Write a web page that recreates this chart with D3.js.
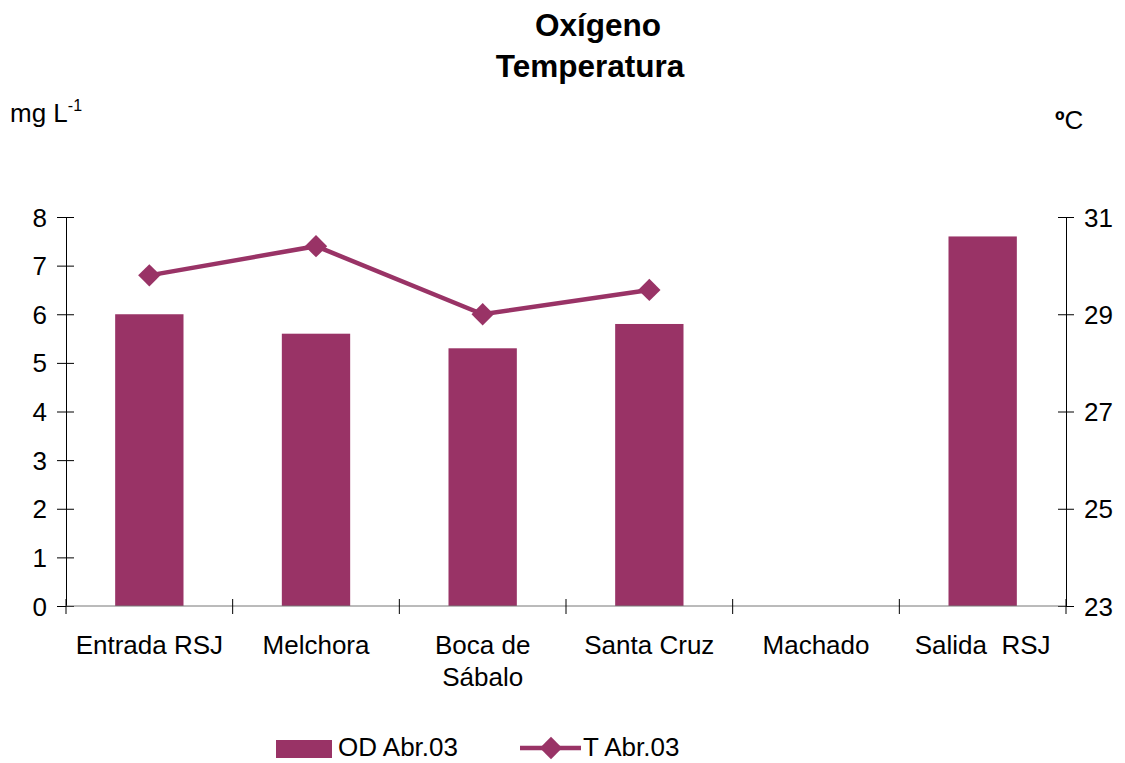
<!DOCTYPE html>
<html><head><meta charset="utf-8">
<script src="https://cdn.jsdelivr.net/npm/d3@7"></script>
<style>body{margin:0;background:#fff}text{font-family:"Liberation Sans",Arial,sans-serif;white-space:pre}</style>
</head><body>
<svg id="c" width="1125" height="763"></svg>
<script>
const categories = [["Entrada RSJ"],["Melchora"],["Boca de","Sábalo"],["Santa Cruz"],["Machado"],["Salida  RSJ"]];
const odValues = [6.0, 5.6, 5.3, 5.8, null, 7.6];
const tValues = [29.8, 30.4, 29.0, 29.5, null, null];
const leftTicks = [0,1,2,3,4,5,6,7,8];
const rightTicks = [23,25,27,29,31];
const color = "#993366";

const svg = d3.select("#c");
const L = 66, R = 1066, T = 217, B = 606;
const FS = 26;
const x = d3.scaleBand().domain(d3.range(categories.length)).range([L, R]).paddingInner(0.59).paddingOuter(0.295);
const xb = d3.scaleBand().domain(d3.range(categories.length)).range([L, R]);
const yL = d3.scaleLinear().domain([0, 8]).range([B, T]);
const yR = d3.scaleLinear().domain([23, 31]).range([B, T]);

// title
svg.append("text").attr("x", 598).attr("y", 36).attr("text-anchor","middle").attr("font-size",31.5).attr("font-weight","bold").text("Oxígeno");
svg.append("text").attr("x", 590).attr("y", 77).attr("text-anchor","middle").attr("font-size",31.5).attr("font-weight","bold").text("Temperatura");
// unit labels
const u = svg.append("text").attr("x", 10).attr("y", 122).attr("font-size",FS);
u.append("tspan").text("mg L");
u.append("tspan").attr("font-size",16).attr("dy",-11).text("-1");
const cu = svg.append("text").attr("x", 1055).attr("y", 129).attr("font-size",FS);
cu.append("tspan").attr("font-weight","bold").text("º");
cu.append("tspan").text("C");

// bars
svg.selectAll("rect.bar").data(odValues.map((v,i)=>({v,i})).filter(d=>d.v!=null)).enter().append("rect")
  .attr("x", d=>x(d.i)).attr("width", x.bandwidth()).attr("y", d=>yL(d.v)).attr("height", d=>B - yL(d.v)).attr("fill", color);

// axes
const gL = svg.append("g").attr("transform",`translate(${L},0)`).call(d3.axisLeft(yL).tickValues(leftTicks).tickSize(0).tickFormat(d3.format("d")));
gL.select(".domain").attr("stroke","#000");
gL.selectAll(".tick line").remove();
gL.selectAll(".tick").append("line").attr("x1",-9).attr("x2",8).attr("stroke","#000");
gL.selectAll("text").attr("font-size",FS).attr("x",-19).attr("dy","0.35em").attr("fill","#000");

const gR = svg.append("g").attr("transform",`translate(${R},0)`).call(d3.axisRight(yR).tickValues(rightTicks).tickSize(0).tickFormat(d3.format("d")));
gR.select(".domain").attr("stroke","#000");
gR.selectAll(".tick").append("line").attr("x1",-8).attr("x2",8).attr("stroke","#000");
gR.selectAll("text").attr("font-size",FS).attr("x",18).attr("dy","0.35em").attr("fill","#000");

// x axis
svg.append("line").attr("x1",L).attr("x2",R).attr("y1",B).attr("y2",B).attr("stroke","#777");
const xTicks = d3.range(categories.length+1).map(i=> i<categories.length ? xb(i) : R);
svg.selectAll("line.xt").data(xTicks).enter().append("line").attr("x1",d=>d).attr("x2",d=>d).attr("y1",B-7).attr("y2",B+8).attr("stroke","#000");
const xl = svg.selectAll("text.xl").data(categories).enter().append("text")
  .attr("text-anchor","middle").attr("font-size",FS).attr("y",654);
xl.each(function(lines,i){
  const t = d3.select(this);
  lines.forEach((ln,j)=> t.append("tspan").attr("x", xb(i)+xb.bandwidth()/2).attr("dy", j===0?0:32).text(ln));
});

// line
const pts = tValues.map((v,i)=>({v,i})).filter(d=>d.v!=null);
const line = d3.line().x(d=>xb(d.i)+xb.bandwidth()/2).y(d=>yR(d.v));
svg.append("path").datum(pts).attr("d", line).attr("fill","none").attr("stroke",color).attr("stroke-width",4.5);
const sym = d3.symbol().type(d3.symbolSquare).size(250);
svg.selectAll("path.m").data(pts).enter().append("path").attr("d", sym)
  .attr("transform", d=>`translate(${xb(d.i)+xb.bandwidth()/2},${yR(d.v)}) rotate(45)`).attr("fill",color);

// legend
svg.append("rect").attr("x",276).attr("y",740).attr("width",56).attr("height",18).attr("fill",color);
svg.append("text").attr("x",338).attr("y",756).attr("font-size",FS).text("OD Abr.03");
svg.append("line").attr("x1",520).attr("x2",581).attr("y1",748).attr("y2",748).attr("stroke",color).attr("stroke-width",4.5);
svg.append("path").attr("d", sym).attr("transform","translate(551,748) rotate(45)").attr("fill",color);
svg.append("text").attr("x",583).attr("y",756).attr("font-size",FS).text("T Abr.03");
</script>
</body></html>
